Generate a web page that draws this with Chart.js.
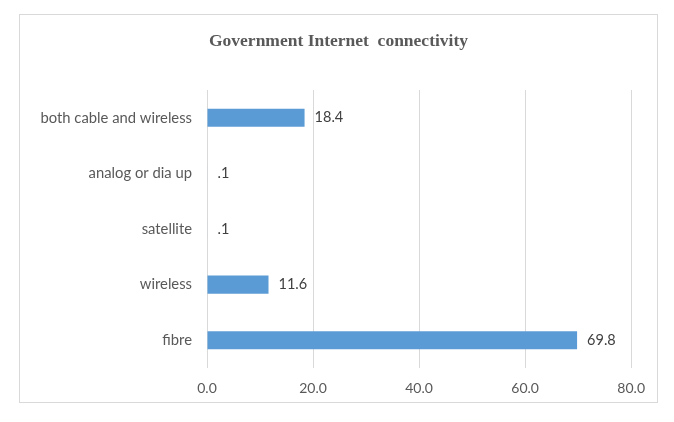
<!DOCTYPE html>
<html>
<head>
<meta charset="utf-8">
<script src="https://cdn.jsdelivr.net/npm/chart.js@4/dist/chart.umd.min.js"></script>
<style>
  body { margin: 0; background: #fff; }
  #frame {
    position: absolute; left: 19px; top: 14px;
    width: 637px; height: 387px;
    border: 1px solid #d9d9d9;
  }
</style>
</head>
<body>
<div id="frame"><canvas id="netChart" width="637" height="387"></canvas></div>
<script>
// Data
const chartTitle = "Government Internet  connectivity";
const categories = ["both cable and wireless", "analog or dia up", "satellite", "wireless", "fibre"];
const shares = [18.4, 0.1, 0.1, 11.6, 69.8];
const xTicks = [0, 20, 40, 60, 80];

// label like Excel: ".1" instead of "0.1"
function fmtLabel(v) {
    return v.toFixed(1).replace(/^0\./, ".");
}

const barLabels = {
    id: "barLabels",
    afterDatasetsDraw(chart) {
        const ctx = chart.ctx;
        const meta = chart.getDatasetMeta(0);
        ctx.save();
        ctx.font = "14.5px Lato";
        ctx.fillStyle = "#404040";
        ctx.textAlign = "left";
        ctx.textBaseline = "middle";
        meta.data.forEach((bar, i) => {
            ctx.fillText(fmtLabel(shares[i]), bar.x + 10, bar.y);
        });
        ctx.restore();
    }
};

// title centred on the whole frame, not on the padded box
const frameTitle = {
    id: "frameTitle",
    afterDraw(chart) {
        const ctx = chart.ctx;
        ctx.save();
        ctx.font = "bold 17.5px 'Liberation Serif'";
        ctx.fillStyle = "#595959";
        ctx.textAlign = "center";
        ctx.textBaseline = "middle";
        ctx.fillText(chartTitle, chart.width / 2, 26);
        ctx.restore();
    }
};

new Chart(document.getElementById("netChart"), {
    type: "bar",
    data: {
        labels: categories,
        datasets: [{
            data: shares,
            backgroundColor: "#5b9bd5",
            borderWidth: 0,
            barPercentage: 0.65,
            categoryPercentage: 0.5
        }]
    },
    plugins: [barLabels, frameTitle],
    options: {
        indexAxis: "y",
        responsive: false,
        animation: false,
        layout: { padding: { top: 75, left: 0, right: 25, bottom: 0 } },
        plugins: {
            legend: { display: false },
            tooltip: { enabled: false },
            title: { display: false }
        },
        scales: {
            x: {
                min: 0,
                max: 80,
                afterBuildTicks(scale) {
                    scale.ticks = xTicks.map(v => ({ value: v }));
                },
                afterFit(scale) { scale.height = 34; },
                grid: { color: "#d9d9d9", lineWidth: 1, drawTicks: false },
                border: { display: false },
                ticks: {
                    padding: 12,
                    color: "#595959",
                    font: { family: "Lato", size: 14 },
                    callback: v => v.toFixed(1)
                }
            },
            y: {
                afterFit(scale) { scale.width = 187; },
                grid: { display: false, drawTicks: false },
                border: { display: false },
                ticks: {
                    padding: 15,
                    color: "#595959",
                    font: { family: "Lato", size: 14.8 }
                }
            }
        }
    }
});
</script>
</body>
</html>
